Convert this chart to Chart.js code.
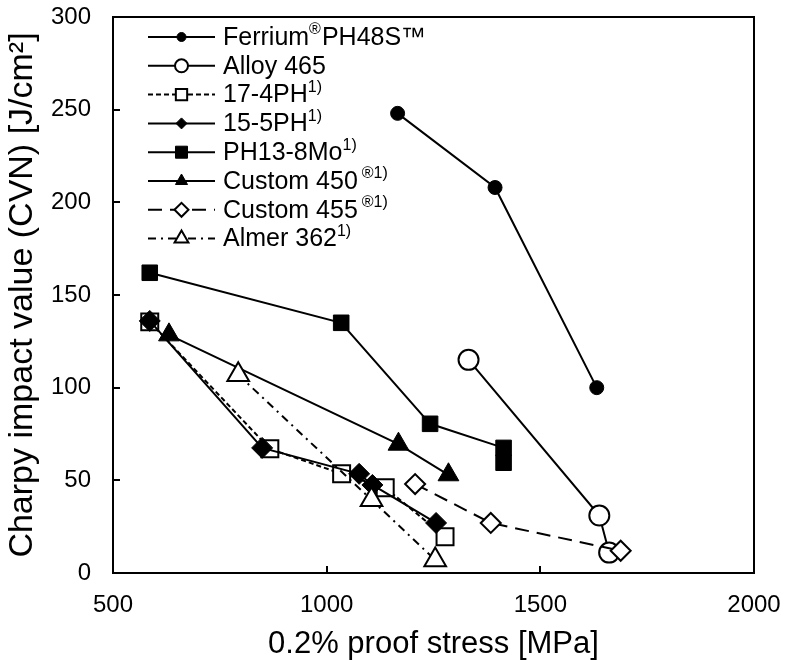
<!DOCTYPE html>
<html><head><meta charset="utf-8">
<script src="https://cdn.jsdelivr.net/npm/chart.js@4.4.0/dist/chart.umd.min.js"></script>
<style>html,body{margin:0;padding:0;background:#fff}#wrap{width:785px;height:660px}</style>
</head><body><div id="wrap"><canvas id="c" width="785" height="660"></canvas></div>
<script>
// ---- data ----
const ferriumX = [1166, 1394, 1632];
const ferriumY = [248, 208, 100];
const alloy465X = [1332, 1638, 1661];
const alloy465Y = [115, 31, 11];
const ph174X = [586, 867, 1035, 1137, 1277];
const ph174Y = [135.5, 67, 53.5, 46, 19.5];
const ph155X = [586, 849, 1076, 1107, 1256];
const ph155Y = [136, 67.5, 53.5, 47.5, 27];
const ph138X = [586, 1034, 1242, 1414, 1414];
const ph138Y = [162, 135, 80.5, 67.5, 59.5];
const c450X = [631, 1168, 1285];
const c450Y = [128.5, 69.5, 53];
const c455X = [1207, 1384, 1688];
const c455Y = [48, 27, 12];
const almerX = [793, 1105, 1254];
const almerY = [107, 39.5, 7];

const legendMain = ["Ferrium", "Alloy 465", "17-4PH", "15-5PH", "PH13-8Mo", "Custom 450", "Custom 455", "Almer 362"];
const legendSup  = ["®", "", "1)", "1)", "1)", "®1)", "®1)", "1)"];
const legendTail = ["PH48S™", "", "", "", "", "", "", ""];

const xTicks = [500, 1000, 1500, 2000];
const yTicks = [0, 50, 100, 150, 200, 250, 300];
const xTitle = "0.2% proof stress [MPa]";
const yTitle = "Charpy impact value (CVN) [J/cm²]";

// ---- styles ----
const FONT = "'Liberation Sans', Arial, sans-serif";
const styles = [
  {shape:'circle',   r:7,    lr:4.5, fill:'#000', lw:1, dash:[]},
  {shape:'circle',   r:10,   lr:6.5, fill:'#fff', lw:2, dash:[]},
  {shape:'rect',     r:12,   lr:8,   fill:'#fff', lw:2, dash:[5,3]},
  {shape:'rectRot',  r:10.5, lr:5.5, fill:'#000', lw:1, dash:[]},
  {shape:'rect',     r:11,   lr:8.5, fill:'#000', lw:1, dash:[]},
  {shape:'triangle', r:12,   lr:7,   fill:'#000', lw:1, dash:[]},
  {shape:'rectRot',  r:10,   lr:7,   fill:'#fff', lw:2, dash:[14,8]},
  {shape:'triangle', r:12.5, lr:8,   fill:'#fff', lw:2, dash:[8,5,2,5]}
];
const xs = [ferriumX, alloy465X, ph174X, ph155X, ph138X, c450X, c455X, almerX];
const ys = [ferriumY, alloy465Y, ph174Y, ph155Y, ph138Y, c450Y, c455Y, almerY];

const datasets = xs.map((X, i) => ({
  label: legendMain[i],
  data: X.map((x, j) => ({x: x, y: ys[i][j]})),
  showLine: true,
  borderColor: '#000',
  borderWidth: 2,
  borderDash: styles[i].dash,
  pointStyle: styles[i].shape,
  pointRadius: styles[i].r,
  pointHoverRadius: styles[i].r,
  pointBackgroundColor: styles[i].fill,
  pointBorderColor: '#000',
  pointBorderWidth: styles[i].lw,
  clip: false,
  order: 8 - i
}));

function marker(ctx, shape, x, y, r, fill, lw) {
  ctx.save();
  ctx.setLineDash([]);
  ctx.beginPath();
  if (shape === 'circle') ctx.arc(x, y, r, 0, Math.PI * 2);
  else if (shape === 'rect') { const s = Math.SQRT1_2 * r; ctx.rect(x - s, y - s, 2 * s, 2 * s); }
  else if (shape === 'rectRot') { ctx.moveTo(x - r, y); ctx.lineTo(x, y - r); ctx.lineTo(x + r, y); ctx.lineTo(x, y + r); ctx.closePath(); }
  else if (shape === 'triangle') { ctx.moveTo(x, y - r); ctx.lineTo(x + 0.866 * r, y + r / 2); ctx.lineTo(x - 0.866 * r, y + r / 2); ctx.closePath(); }
  ctx.fillStyle = fill; ctx.fill();
  ctx.lineWidth = lw; ctx.strokeStyle = '#000'; ctx.stroke();
  ctx.restore();
}

const framePlugin = {
  id: 'frame',
  beforeDatasetsDraw(chart) {
    const {ctx, chartArea: a, scales} = chart;
    ctx.save();
    ctx.strokeStyle = '#000';
    ctx.lineWidth = 2;
    ctx.strokeRect(a.left, a.top, a.right - a.left, a.bottom - a.top);
    ctx.beginPath();
    scales.y.ticks.forEach(t => {
      const p = Math.round(scales.y.getPixelForValue(t.value));
      if (p > a.top + 2 && p < a.bottom - 2) { ctx.moveTo(a.left, p); ctx.lineTo(a.left + 7, p); }
    });
    scales.x.ticks.forEach(t => {
      const p = Math.round(scales.x.getPixelForValue(t.value));
      if (p > a.left + 2 && p < a.right - 2) { ctx.moveTo(p, a.bottom); ctx.lineTo(p, a.bottom - 7); }
    });
    ctx.stroke();
    ctx.restore();
  }
};

const legendPlugin = {
  id: 'customLegend',
  afterDraw(chart) {
    const ctx = chart.ctx;
    const x0 = 148, x1 = 215, xm = 181.5, tx = 223, y0 = 37, dy = 28.8;
    ctx.save();
    legendMain.forEach((name, i) => {
      const y = y0 + i * dy;
      const st = styles[i];
      ctx.beginPath();
      ctx.setLineDash(st.dash);
      ctx.lineWidth = 2; ctx.strokeStyle = '#000';
      ctx.moveTo(x0, y); ctx.lineTo(x1, y); ctx.stroke();
      marker(ctx, st.shape, xm, y, st.lr, st.fill, st.lw);
      ctx.fillStyle = '#000';
      ctx.textBaseline = 'middle';
      ctx.font = '25px ' + FONT;
      let x = tx;
      ctx.fillText(name, x, y + 1);
      x += ctx.measureText(name).width;
      if (legendSup[i]) {
        if (legendSup[i].startsWith('®') && i > 0) x += 4;
        ctx.font = '16px ' + FONT;
        ctx.fillText(legendSup[i], x, y - 7);
        x += ctx.measureText(legendSup[i]).width;
      }
      if (legendTail[i]) {
        ctx.font = '25px ' + FONT;
        ctx.fillText(legendTail[i], x + 1, y + 1);
      }
    });
    ctx.restore();
  }
};

new Chart(document.getElementById('c'), {
  type: 'scatter',
  data: { datasets },
  options: {
    responsive: false,
    animation: false,
    events: [],
    layout: { padding: { top: 17, right: 31, left: 0, bottom: 0 } },
    plugins: { legend: { display: false }, tooltip: { enabled: false } },
    scales: {
      x: {
        type: 'linear', min: 500, max: 2000,
        afterFit: s => { s.height = 87; s.paddingLeft = 0; s.paddingRight = 0; },
        afterBuildTicks: s => { s.ticks = xTicks.map(v => ({value: v})); },
        grid: { display: false, drawTicks: false },
        border: { display: false },
        ticks: { color: '#000', font: { family: FONT, size: 24 }, padding: 18, maxRotation: 0, callback: v => String(v) },
        title: { display: true, text: xTitle, color: '#000', font: { family: FONT, size: 31 }, padding: { top: 0, bottom: -3 } }
      },
      y: {
        type: 'linear', min: 0, max: 300,
        afterFit: s => { s.width = 113; s.paddingTop = 0; s.paddingBottom = 0; },
        afterBuildTicks: s => { s.ticks = yTicks.map(v => ({value: v})); },
        grid: { display: false, drawTicks: false },
        border: { display: false },
        ticks: { color: '#000', font: { family: FONT, size: 24 }, padding: 22, callback: v => String(v) },
        title: { display: true, text: yTitle, color: '#000', font: { family: FONT, size: 34 }, padding: { top: 2, bottom: 0 } }
      }
    }
  },
  plugins: [framePlugin, legendPlugin]
});
</script>
</body></html>
